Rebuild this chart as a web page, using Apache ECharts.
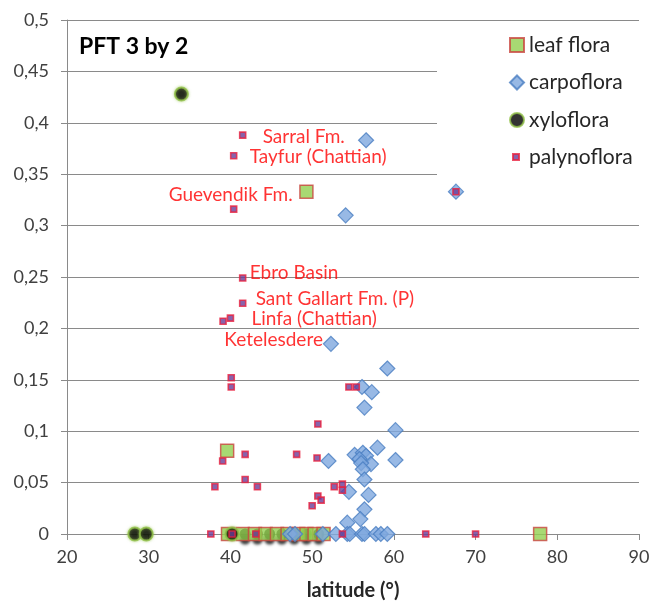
<!DOCTYPE html>
<html>
<head>
<meta charset="utf-8">
<script src="https://cdn.jsdelivr.net/npm/echarts@6/dist/echarts.min.js"></script>
<style>
html,body{margin:0;padding:0;background:#fff;}
#chart{width:652px;height:604px;}
</style>
</head>
<body>
<div id="chart"></div>
<script>
// ---- data (latitude °, PFT 3 by 2 value) ----
const seriesNames = ['leaf flora', 'carpoflora', 'xyloflora', 'palynoflora'];

const leafFlora = [
  [39.6, 0.081], [49.3, 0.333], [77.9, 0],
  [39.7, 0], [41.5, 0], [43.0, 0], [44.3, 0], [45.7, 0], [47.0, 0],
  [48.3, 0], [49.3, 0], [50.3, 0], [51.4, 0]
];

const carpoflora = [
  [56.6, 0.383], [54.1, 0.310], [67.6, 0.333], [52.3, 0.185], [59.2, 0.161],
  [56.1, 0.143], [57.3, 0.138], [56.4, 0.123], [60.2, 0.101], [58.0, 0.084],
  [55.2, 0.077], [56.2, 0.079], [56.6, 0.076], [60.2, 0.072], [55.8, 0.073],
  [57.2, 0.068], [56.0, 0.069], [56.2, 0.063], [52.0, 0.071], [56.4, 0.053],
  [54.5, 0.041], [56.9, 0.038], [56.4, 0.024], [55.9, 0.0145], [54.3, 0.011],
  [47.3, 0], [47.9, 0], [51.3, 0], [52.9, 0], [54.3, 0], [54.6, 0],
  [56.1, 0], [56.4, 0], [57.8, 0], [58.4, 0], [59.2, 0]
];

const xylofloraShown = [
  [28.3, 0], [29.7, 0], [34.0, 0.428], [40.2, 0]
];

const xylofloraBehindLeaf = [
  [41.8, 0], [43.3, 0], [44.8, 0], [46.3, 0], [47.8, 0], [49.3, 0], [50.8, 0]
];

const palynoflora = [
  [41.5, 0.388], [40.4, 0.368], [40.4, 0.316], [67.6, 0.333], [41.5, 0.249],
  [41.5, 0.2245], [40.0, 0.21], [39.1, 0.207], [40.1, 0.152], [40.1, 0.143],
  [54.5, 0.143], [55.4, 0.143], [50.7, 0.107], [41.8, 0.0775], [39.05, 0.071],
  [48.1, 0.0775], [50.6, 0.074], [41.8, 0.053], [38.1, 0.046], [43.3, 0.046],
  [52.7, 0.046], [53.7, 0.0485], [53.7, 0.0425], [50.7, 0.037], [51.1, 0.033],
  [50.0, 0.0275], [37.6, 0], [40.2, 0], [43.1, 0], [53.7, 0], [63.9, 0], [70.0, 0]
];

const annotationAnchors = [
  [41.5, 0.388], [40.4, 0.368], [40.4, 0.316], [41.5, 0.249],
  [41.5, 0.2245], [40.0, 0.21], [52.3, 0.185]
];
const annotationTexts = [
  'Sarral Fm.', 'Tayfur (Chattian)', 'Guevendik Fm.', 'Ebro Basin',
  'Sant Gallart Fm. (P)', 'Linfa (Chattian)', 'Ketelesdere'
];

const titleText = 'PFT 3 by 2';
const xAxisName = 'latitude (°)';

// ---- layout / style (kept apart from the data) ----
const FONT = 'Lato';
const annotationLayout = [
  { align: 'left', offset: [20, 1.5] },
  { align: 'left', offset: [16, 1.5] },
  { align: 'center', offset: [-3, -14] },
  { align: 'left', offset: [7, -5] },
  { align: 'left', offset: [13, -4] },
  { align: 'left', offset: [21, 1] },
  { align: 'right', offset: [-8, -4] }
];

const gridColor = '#8a8a8a';
const leafStyle = { color: '#92D050', borderColor: '#C9453F', borderWidth: 1.5 };
const carpoStyle = { color: '#7EA8DE', borderColor: '#4A7EC2', borderWidth: 1.2 };
const xyloStyle = { color: '#000000', borderColor: '#92C24A', borderWidth: 2 };
const palyStyle = { color: '#6A3C96', borderColor: '#E8203F', borderWidth: 1.6 };

const fmt = v => String(Math.round(v * 100) / 100).replace('.', ',');

const chart = echarts.init(document.getElementById('chart'), null, { renderer: 'canvas' });

const option = {
  backgroundColor: '#ffffff',
  animation: false,
  title: {
    text: titleText,
    left: 79, top: 35, padding: 0,
    textStyle: { fontFamily: FONT, fontSize: 23, fontWeight: 'bold', color: '#000000' }
  },
  legend: [
    {
      data: seriesNames.slice(0, 3),
      orient: 'vertical',
      left: 437, top: 25,
      padding: [8, 20, 46, 72],
      backgroundColor: '#ffffff',
      itemWidth: 14, itemHeight: 14, itemGap: 13.5,
      textStyle: { fontFamily: FONT, fontSize: 21, color: '#262626', lineHeight: 24 },
      selectedMode: false
    },
    {
      data: seriesNames.slice(3),
      orient: 'vertical',
      left: 512, top: 145,
      padding: 0,
      itemWidth: 6, itemHeight: 6,
      textStyle: { fontFamily: FONT, fontSize: 21, color: '#262626', lineHeight: 24, padding: [0, 0, 0, 5] },
      selectedMode: false
    }
  ],
  grid: { left: 67, right: 13, top: 20, bottom: 70, containLabel: false, outerBoundsMode: 'none' },
  xAxis: {
    type: 'value', min: 20, max: 90, interval: 10,
    name: xAxisName, nameLocation: 'middle', nameGap: 47,
    nameTextStyle: { fontFamily: FONT, fontSize: 20, fontWeight: 'bold', color: '#262626' },
    axisLine: { show: true, lineStyle: { color: gridColor, width: 1 } },
    axisTick: { show: true, length: 6, lineStyle: { color: gridColor } },
    axisLabel: { fontFamily: FONT, fontSize: 18, color: '#404040', margin: 14, formatter: fmt },
    splitLine: { show: false }
  },
  yAxis: {
    type: 'value', min: 0, max: 0.5, interval: 0.05,
    axisLine: { show: true, lineStyle: { color: gridColor, width: 1 } },
    axisTick: { show: true, length: 6, lineStyle: { color: gridColor } },
    axisLabel: { fontFamily: FONT, fontSize: 18, color: '#404040', margin: 18, formatter: fmt },
    splitLine: { show: true, lineStyle: { color: gridColor, width: 1 } }
  },
  series: [
    { name: seriesNames[0], type: 'scatter', symbol: 'rect', symbolSize: 13, data: leafFlora, itemStyle: leafStyle, zlevel: 1, z: 2 },
    { name: seriesNames[1], type: 'scatter', symbol: 'diamond', symbolSize: 15, data: carpoflora, itemStyle: carpoStyle, zlevel: 1, z: 2 },
    { name: seriesNames[2], type: 'scatter', symbol: 'circle', symbolSize: 13, data: xylofloraShown,
      itemStyle: Object.assign({ shadowBlur: 3, shadowColor: 'rgba(146,194,74,0.7)' }, xyloStyle), zlevel: 1, z: 2 },
    { name: seriesNames[3], type: 'scatter', symbol: 'rect', symbolSize: 6, data: palynoflora, itemStyle: palyStyle, zlevel: 1, z: 2 },
    { name: seriesNames[2], type: 'scatter', symbol: 'circle', symbolSize: 11, data: xylofloraBehindLeaf,
      itemStyle: { color: '#000000', borderWidth: 0, shadowBlur: 3, shadowColor: 'rgba(0,0,0,0.95)', shadowOffsetY: 5 },
      zlevel: 0, z: 3 },
    {
      name: 'annotations', type: 'scatter', symbolSize: 1, silent: true, zlevel: 1, z: 4,
      itemStyle: { color: 'rgba(0,0,0,0)' },
      data: annotationAnchors.map((p, i) => ({
        value: p,
        label: {
          show: true, position: 'inside', formatter: annotationTexts[i],
          align: annotationLayout[i].align, verticalAlign: 'middle',
          offset: annotationLayout[i].offset,
          fontFamily: FONT, fontSize: 19, color: '#FF0000'
        }
      }))
    }
  ]
};
chart.setOption(option);
</script>
</body>
</html>
